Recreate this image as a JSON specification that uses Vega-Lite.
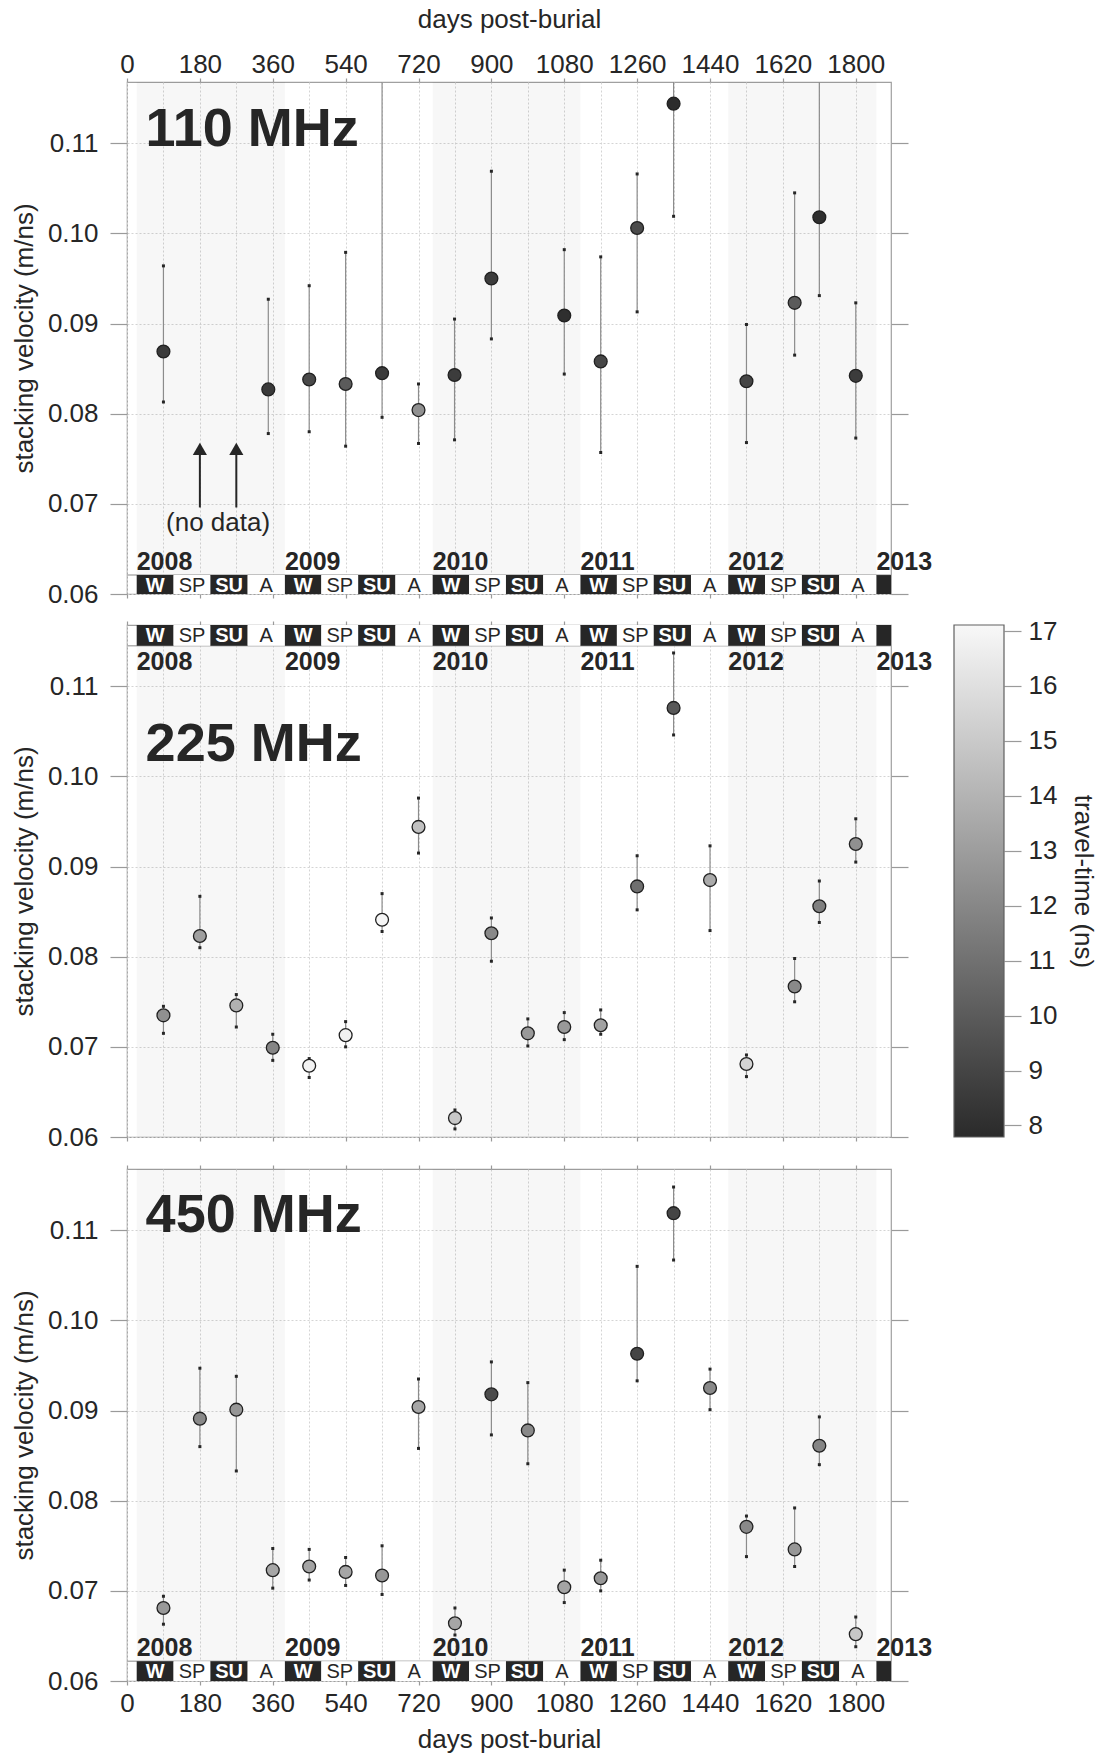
{
"$schema": "https://vega.github.io/schema/vega-lite/v6.json",
"padding": {"left": 10, "top": 5, "right": 0, "bottom": 0},
"config": {
  "font": "Liberation Sans",
  "view": {"stroke": "#a0a0a0", "strokeWidth": 1.2},
  "text": {"color": "#262626", "font": "Liberation Sans"},
  "axis": {"labelFont": "Liberation Sans", "titleFont": "Liberation Sans", "labelColor": "#262626", "titleColor": "#262626", "tickColor": "#9a9a9a", "tickWidth": 1.2, "domain": false, "gridColor": "#d4d4d4", "gridDash": [2, 2], "gridWidth": 1, "labelFontSize": 26, "titleFontSize": 26, "titleFontWeight": "normal"}
},
"datasets": {
  "pts": [
    {"f": "110", "day": 90, "v": 0.0869, "lo": 0.0813, "hi": 0.0964, "tt": 8.5},
    {"f": "110", "day": 349, "v": 0.0827, "lo": 0.0778, "hi": 0.0927, "tt": 8.5},
    {"f": "110", "day": 450, "v": 0.0838, "lo": 0.0780, "hi": 0.0942, "tt": 9.2},
    {"f": "110", "day": 540, "v": 0.0833, "lo": 0.0764, "hi": 0.0979, "tt": 10.0},
    {"f": "110", "day": 630, "v": 0.0845, "lo": 0.0796, "hi": 0.122, "tt": 8.5},
    {"f": "110", "day": 720, "v": 0.0804, "lo": 0.0767, "hi": 0.0833, "tt": 12.4},
    {"f": "110", "day": 809, "v": 0.0843, "lo": 0.0771, "hi": 0.0905, "tt": 8.6},
    {"f": "110", "day": 900, "v": 0.0950, "lo": 0.0883, "hi": 0.1069, "tt": 8.6},
    {"f": "110", "day": 1080, "v": 0.0909, "lo": 0.0844, "hi": 0.0982, "tt": 8.0},
    {"f": "110", "day": 1170, "v": 0.0858, "lo": 0.0757, "hi": 0.0974, "tt": 9.1},
    {"f": "110", "day": 1260, "v": 0.1006, "lo": 0.0913, "hi": 0.1066, "tt": 9.3},
    {"f": "110", "day": 1350, "v": 0.1144, "lo": 0.1019, "hi": 0.122, "tt": 7.9},
    {"f": "110", "day": 1530, "v": 0.0836, "lo": 0.0768, "hi": 0.0899, "tt": 9.0},
    {"f": "110", "day": 1649, "v": 0.0923, "lo": 0.0865, "hi": 0.1045, "tt": 10.0},
    {"f": "110", "day": 1710, "v": 0.1018, "lo": 0.0931, "hi": 0.122, "tt": 8.0},
    {"f": "110", "day": 1800, "v": 0.0842, "lo": 0.0773, "hi": 0.0923, "tt": 8.6},
    {"f": "225", "day": 90, "v": 0.0735, "lo": 0.0715, "hi": 0.0745, "tt": 12.4},
    {"f": "225", "day": 180, "v": 0.0823, "lo": 0.0810, "hi": 0.0867, "tt": 13.1},
    {"f": "225", "day": 270, "v": 0.0746, "lo": 0.0722, "hi": 0.0758, "tt": 13.9},
    {"f": "225", "day": 360, "v": 0.0699, "lo": 0.0685, "hi": 0.0714, "tt": 11.9},
    {"f": "225", "day": 450, "v": 0.0679, "lo": 0.0666, "hi": 0.0687, "tt": 16.9},
    {"f": "225", "day": 540, "v": 0.0713, "lo": 0.0700, "hi": 0.0728, "tt": 16.8},
    {"f": "225", "day": 630, "v": 0.0841, "lo": 0.0828, "hi": 0.0870, "tt": 17.0},
    {"f": "225", "day": 720, "v": 0.0944, "lo": 0.0915, "hi": 0.0976, "tt": 14.6},
    {"f": "225", "day": 810, "v": 0.0621, "lo": 0.0609, "hi": 0.0630, "tt": 14.9},
    {"f": "225", "day": 900, "v": 0.0826, "lo": 0.0795, "hi": 0.0843, "tt": 12.1},
    {"f": "225", "day": 990, "v": 0.0715, "lo": 0.0701, "hi": 0.0731, "tt": 12.8},
    {"f": "225", "day": 1080, "v": 0.0722, "lo": 0.0708, "hi": 0.0738, "tt": 12.8},
    {"f": "225", "day": 1170, "v": 0.0724, "lo": 0.0714, "hi": 0.0741, "tt": 13.2},
    {"f": "225", "day": 1260, "v": 0.0878, "lo": 0.0852, "hi": 0.0912, "tt": 10.9},
    {"f": "225", "day": 1350, "v": 0.1076, "lo": 0.1046, "hi": 0.1137, "tt": 9.9},
    {"f": "225", "day": 1440, "v": 0.0885, "lo": 0.0829, "hi": 0.0923, "tt": 13.6},
    {"f": "225", "day": 1530, "v": 0.0681, "lo": 0.0667, "hi": 0.0691, "tt": 15.5},
    {"f": "225", "day": 1649, "v": 0.0767, "lo": 0.0750, "hi": 0.0798, "tt": 12.1},
    {"f": "225", "day": 1710, "v": 0.0856, "lo": 0.0838, "hi": 0.0884, "tt": 11.7},
    {"f": "225", "day": 1800, "v": 0.0925, "lo": 0.0905, "hi": 0.0953, "tt": 12.4},
    {"f": "450", "day": 90, "v": 0.0681, "lo": 0.0663, "hi": 0.0694, "tt": 12.8},
    {"f": "450", "day": 180, "v": 0.0891, "lo": 0.0860, "hi": 0.0947, "tt": 12.1},
    {"f": "450", "day": 270, "v": 0.0901, "lo": 0.0833, "hi": 0.0938, "tt": 12.7},
    {"f": "450", "day": 360, "v": 0.0723, "lo": 0.0703, "hi": 0.0747, "tt": 13.4},
    {"f": "450", "day": 450, "v": 0.0727, "lo": 0.0712, "hi": 0.0746, "tt": 13.3},
    {"f": "450", "day": 540, "v": 0.0721, "lo": 0.0706, "hi": 0.0737, "tt": 13.4},
    {"f": "450", "day": 630, "v": 0.0717, "lo": 0.0696, "hi": 0.0750, "tt": 12.7},
    {"f": "450", "day": 720, "v": 0.0904, "lo": 0.0858, "hi": 0.0935, "tt": 13.4},
    {"f": "450", "day": 810, "v": 0.0664, "lo": 0.0651, "hi": 0.0681, "tt": 13.4},
    {"f": "450", "day": 900, "v": 0.0918, "lo": 0.0873, "hi": 0.0954, "tt": 9.3},
    {"f": "450", "day": 990, "v": 0.0878, "lo": 0.0841, "hi": 0.0931, "tt": 12.1},
    {"f": "450", "day": 1080, "v": 0.0704, "lo": 0.0687, "hi": 0.0723, "tt": 13.3},
    {"f": "450", "day": 1170, "v": 0.0714, "lo": 0.0700, "hi": 0.0734, "tt": 12.7},
    {"f": "450", "day": 1260, "v": 0.0963, "lo": 0.0933, "hi": 0.1060, "tt": 9.0},
    {"f": "450", "day": 1350, "v": 0.1119, "lo": 0.1067, "hi": 0.1148, "tt": 9.0},
    {"f": "450", "day": 1440, "v": 0.0925, "lo": 0.0901, "hi": 0.0946, "tt": 12.1},
    {"f": "450", "day": 1530, "v": 0.0771, "lo": 0.0738, "hi": 0.0783, "tt": 12.1},
    {"f": "450", "day": 1649, "v": 0.0746, "lo": 0.0727, "hi": 0.0792, "tt": 12.7},
    {"f": "450", "day": 1710, "v": 0.0861, "lo": 0.0840, "hi": 0.0893, "tt": 11.9},
    {"f": "450", "day": 1800, "v": 0.0652, "lo": 0.0638, "hi": 0.0671, "tt": 14.9}
  ],
  "years": [
    {"year": 2008, "start": 24, "end": 390},
    {"year": 2009, "start": 390, "end": 755},
    {"year": 2010, "start": 755, "end": 1120},
    {"year": 2011, "start": 1120, "end": 1485},
    {"year": 2012, "start": 1485, "end": 1851},
    {"year": 2013, "start": 1851, "end": 1887}
  ],
  "seasons": [
    {"year": 2008, "season": "W", "start": 24, "end": 115, "mid": 69.5},
    {"year": 2008, "season": "SP", "start": 115, "end": 206, "mid": 160.5},
    {"year": 2008, "season": "SU", "start": 206, "end": 298, "mid": 252},
    {"year": 2008, "season": "A", "start": 298, "end": 390, "mid": 344},
    {"year": 2009, "season": "W", "start": 390, "end": 480, "mid": 435},
    {"year": 2009, "season": "SP", "start": 480, "end": 571, "mid": 525.5},
    {"year": 2009, "season": "SU", "start": 571, "end": 663, "mid": 617},
    {"year": 2009, "season": "A", "start": 663, "end": 755, "mid": 709},
    {"year": 2010, "season": "W", "start": 755, "end": 845, "mid": 800},
    {"year": 2010, "season": "SP", "start": 845, "end": 936, "mid": 890.5},
    {"year": 2010, "season": "SU", "start": 936, "end": 1028, "mid": 982},
    {"year": 2010, "season": "A", "start": 1028, "end": 1120, "mid": 1074},
    {"year": 2011, "season": "W", "start": 1120, "end": 1210, "mid": 1165},
    {"year": 2011, "season": "SP", "start": 1210, "end": 1301, "mid": 1255.5},
    {"year": 2011, "season": "SU", "start": 1301, "end": 1393, "mid": 1347},
    {"year": 2011, "season": "A", "start": 1393, "end": 1485, "mid": 1439},
    {"year": 2012, "season": "W", "start": 1485, "end": 1576, "mid": 1530.5},
    {"year": 2012, "season": "SP", "start": 1576, "end": 1667, "mid": 1621.5},
    {"year": 2012, "season": "SU", "start": 1667, "end": 1759, "mid": 1713},
    {"year": 2012, "season": "A", "start": 1759, "end": 1851, "mid": 1805},
    {"year": 2013, "season": "W", "start": 1851, "end": 1887, "mid": 1869}
  ]
},
"spacing": 10,
"vconcat": [
  {
    "width": 764, "height": 512,
    "resolve": {"axis": {"x": "independent", "y": "independent"}},
    "layer": [
      {"data": {"name": "years"}, "transform": [{"filter": "datum.year % 2 == 0 && datum.year < 2013"}],
       "mark": {"type": "rect", "color": "#000000", "opacity": 0.03},
       "encoding": {
         "x": {"field": "start", "type": "quantitative", "scale": {"domain": [0, 1887], "nice": false, "zero": false},
               "axis": {"orient": "top", "values": [0,90,180,270,360,450,540,630,720,810,900,990,1080,1170,1260,1350,1440,1530,1620,1710,1800], "format": "d", "labelExpr": "datum.value % 180 === 0 ? datum.label : ''", "labelFlush": false, "labelOverlap": false, "labelPadding": 1, "tickSize": 4, "tickOpacity": {"condition": {"test": "datum.value % 180 !== 0", "value": 0}, "value": 1}, "grid": true, "title": "days post-burial", "titlePadding": 19}},
         "x2": {"field": "end"}}},
      {"data": {"name": "pts"}, "transform": [{"filter": "datum.f == '110'"}],
       "mark": {"type": "rule", "color": "#8c8c8c", "strokeWidth": 1.2, "clip": true},
       "encoding": {
         "x": {"field": "day", "type": "quantitative", "scale": {"domain": [0, 1887], "nice": false, "zero": false}, "axis": null},
         "y": {"field": "lo", "type": "quantitative", "scale": {"domain": [0.06, 0.1168], "nice": false, "zero": false},
               "axis": {"orient": "left", "values": [0.06, 0.07, 0.08, 0.09, 0.1, 0.11], "format": ".2f", "tickSize": 17, "labelPadding": 12, "grid": true, "title": "stacking velocity (m/ns)", "titlePadding": 10}},
         "y2": {"field": "hi"}}},
      {"data": {"name": "pts"}, "transform": [{"filter": "datum.f == '110'"}, {"fold": ["lo", "hi"], "as": ["end", "val"]}],
       "mark": {"type": "square", "color": "#262626", "size": 9, "opacity": 1, "clip": true},
       "encoding": {
         "x": {"field": "day", "type": "quantitative", "scale": {"domain": [0, 1887], "nice": false, "zero": false}, "axis": null},
         "y": {"field": "val", "type": "quantitative", "scale": {"domain": [0.06, 0.1168], "nice": false, "zero": false}, "axis": null}}},
      {"data": {"name": "pts"}, "transform": [{"filter": "datum.f == '110'"}],
       "mark": {"type": "circle", "size": 165, "stroke": "#202020", "strokeWidth": 1.3, "opacity": 1},
       "encoding": {
         "x": {"field": "day", "type": "quantitative", "scale": {"domain": [0, 1887], "nice": false, "zero": false},
               "axis": {"orient": "bottom", "values": [0,180,360,540,720,900,1080,1260,1440,1620,1800], "labels": false, "tickSize": 4, "grid": false, "title": null}},
         "y": {"field": "v", "type": "quantitative", "scale": {"domain": [0.06, 0.1168], "nice": false, "zero": false},
               "axis": {"orient": "right", "values": [0.06, 0.07, 0.08, 0.09, 0.1, 0.11], "labels": false, "tickSize": 17, "grid": false, "title": null}},
         "color": {"field": "tt", "type": "quantitative", "scale": {"domain": [7.79, 17.11], "range": ["#2a2a2a", "#f8f8f8"], "interpolate": "rgb"}, "legend": null}}},
      {"data": {"values": [{"n": 1}]},
       "mark": {"type": "rule", "color": "#b0b0b0", "strokeWidth": 1.5},
       "encoding": {"y": {"datum": 0.0621, "type": "quantitative", "scale": {"domain": [0.06, 0.1168], "nice": false, "zero": false}, "axis": null}}},
      {"data": {"name": "seasons"},
       "mark": {"type": "rect"},
       "encoding": {
         "x": {"field": "start", "type": "quantitative", "scale": {"domain": [0, 1887], "nice": false, "zero": false}, "axis": null},
         "x2": {"field": "end"},
         "y": {"datum": 0.06, "type": "quantitative", "scale": {"domain": [0.06, 0.1168], "nice": false, "zero": false}, "axis": null},
         "y2": {"datum": 0.0621},
         "fill": {"condition": {"test": "datum.season == 'W' || datum.season == 'SU'", "value": "#262626"}, "value": "#ffffff"}}},
      {"data": {"name": "seasons"}, "transform": [{"filter": "(datum.season == 'W' || datum.season == 'SU') && datum.year < 2013"}],
       "mark": {"type": "text", "color": "#ffffff", "fontSize": 20, "fontWeight": "bold", "baseline": "middle", "dy": 1},
       "encoding": {
         "x": {"field": "mid", "type": "quantitative", "scale": {"domain": [0, 1887], "nice": false, "zero": false}, "axis": null},
         "y": {"datum": 0.06105, "type": "quantitative", "scale": {"domain": [0.06, 0.1168], "nice": false, "zero": false}, "axis": null},
         "text": {"field": "season", "type": "nominal"}}},
      {"data": {"name": "seasons"}, "transform": [{"filter": "datum.season == 'SP' || datum.season == 'A'"}],
       "mark": {"type": "text", "color": "#262626", "fontSize": 20, "baseline": "middle", "dy": 1},
       "encoding": {
         "x": {"field": "mid", "type": "quantitative", "scale": {"domain": [0, 1887], "nice": false, "zero": false}, "axis": null},
         "y": {"datum": 0.06105, "type": "quantitative", "scale": {"domain": [0.06, 0.1168], "nice": false, "zero": false}, "axis": null},
         "text": {"field": "season", "type": "nominal"}}},
      {"data": {"name": "years"},
       "mark": {"type": "text", "fontSize": 25, "fontWeight": "bold", "align": "left", "baseline": "alphabetic"},
       "encoding": {
         "x": {"field": "start", "type": "quantitative", "scale": {"domain": [0, 1887], "nice": false, "zero": false}, "axis": null},
         "y": {"datum": 0.0627, "type": "quantitative", "scale": {"domain": [0.06, 0.1168], "nice": false, "zero": false}, "axis": null},
         "text": {"field": "year", "type": "nominal"}}},
      {"data": {"values": [{"label": "110 MHz"}]},
       "mark": {"type": "text", "fontSize": 54, "fontWeight": "bold", "align": "left", "baseline": "alphabetic"},
       "encoding": {
         "x": {"datum": 46, "type": "quantitative", "scale": {"domain": [0, 1887], "nice": false, "zero": false}, "axis": null},
         "y": {"datum": 0.1097, "type": "quantitative", "scale": {"domain": [0.06, 0.1168], "nice": false, "zero": false}, "axis": null},
         "text": {"field": "label", "type": "nominal"}}},
      {"data": {"values": [{"label": "(no data)"}]},
       "mark": {"type": "text", "fontSize": 26, "align": "center", "baseline": "alphabetic"},
       "encoding": {
         "x": {"datum": 225, "type": "quantitative", "scale": {"domain": [0, 1887], "nice": false, "zero": false}, "axis": null},
         "y": {"datum": 0.0670, "type": "quantitative", "scale": {"domain": [0.06, 0.1168], "nice": false, "zero": false}, "axis": null},
         "text": {"field": "label", "type": "nominal"}}},
      {"data": {"values": [{"day": 180}, {"day": 270}]},
       "mark": {"type": "rule", "color": "#262626", "strokeWidth": 2},
       "encoding": {
         "x": {"field": "day", "type": "quantitative", "scale": {"domain": [0, 1887], "nice": false, "zero": false}, "axis": null},
         "y": {"datum": 0.0696, "type": "quantitative", "scale": {"domain": [0.06, 0.1168], "nice": false, "zero": false}, "axis": null},
         "y2": {"datum": 0.0755}}},
      {"data": {"values": [{"day": 180}, {"day": 270}]},
       "mark": {"type": "point", "shape": "triangle-up", "filled": true, "color": "#262626", "size": 200, "opacity": 1},
       "encoding": {
         "x": {"field": "day", "type": "quantitative", "scale": {"domain": [0, 1887], "nice": false, "zero": false}, "axis": null},
         "y": {"datum": 0.0761, "type": "quantitative", "scale": {"domain": [0.06, 0.1168], "nice": false, "zero": false}, "axis": null}}}
    ]
  },
  {
    "spacing": 12,
    "vconcat": [
      {
        "spacing": 20,
        "resolve": {"scale": {"y": "independent"}},
        "hconcat": [
          {
            "width": 764, "height": 512,
            "resolve": {"axis": {"x": "independent", "y": "independent"}},
            "layer": [
              {"data": {"name": "years"}, "transform": [{"filter": "datum.year % 2 == 0 && datum.year < 2013"}],
               "mark": {"type": "rect", "color": "#000000", "opacity": 0.03},
               "encoding": {
                 "x": {"field": "start", "type": "quantitative", "scale": {"domain": [0, 1887], "nice": false, "zero": false},
                       "axis": {"orient": "top", "values": [0,90,180,270,360,450,540,630,720,810,900,990,1080,1170,1260,1350,1440,1530,1620,1710,1800], "labels": false, "tickSize": 4, "tickOpacity": {"condition": {"test": "datum.value % 180 !== 0", "value": 0}, "value": 1}, "grid": true, "title": null}},
                 "x2": {"field": "end"}}},
              {"data": {"name": "pts"}, "transform": [{"filter": "datum.f == '225'"}],
               "mark": {"type": "rule", "color": "#8c8c8c", "strokeWidth": 1.2, "clip": true},
               "encoding": {
                 "x": {"field": "day", "type": "quantitative", "scale": {"domain": [0, 1887], "nice": false, "zero": false}, "axis": null},
                 "y": {"field": "lo", "type": "quantitative", "scale": {"domain": [0.06, 0.1168], "nice": false, "zero": false},
                       "axis": {"orient": "left", "values": [0.06, 0.07, 0.08, 0.09, 0.1, 0.11], "format": ".2f", "tickSize": 17, "labelPadding": 12, "grid": true, "title": "stacking velocity (m/ns)", "titlePadding": 10}},
                 "y2": {"field": "hi"}}},
              {"data": {"name": "pts"}, "transform": [{"filter": "datum.f == '225'"}, {"fold": ["lo", "hi"], "as": ["end", "val"]}],
               "mark": {"type": "square", "color": "#262626", "size": 9, "opacity": 1, "clip": true},
               "encoding": {
                 "x": {"field": "day", "type": "quantitative", "scale": {"domain": [0, 1887], "nice": false, "zero": false}, "axis": null},
                 "y": {"field": "val", "type": "quantitative", "scale": {"domain": [0.06, 0.1168], "nice": false, "zero": false}, "axis": null}}},
              {"data": {"name": "pts"}, "transform": [{"filter": "datum.f == '225'"}],
               "mark": {"type": "circle", "size": 165, "stroke": "#202020", "strokeWidth": 1.3, "opacity": 1},
               "encoding": {
                 "x": {"field": "day", "type": "quantitative", "scale": {"domain": [0, 1887], "nice": false, "zero": false},
                       "axis": {"orient": "bottom", "values": [0,180,360,540,720,900,1080,1260,1440,1620,1800], "labels": false, "tickSize": 4, "grid": false, "title": null}},
                 "y": {"field": "v", "type": "quantitative", "scale": {"domain": [0.06, 0.1168], "nice": false, "zero": false},
                       "axis": {"orient": "right", "values": [0.06, 0.07, 0.08, 0.09, 0.1, 0.11], "labels": false, "tickSize": 17, "grid": false, "title": null}},
                 "color": {"field": "tt", "type": "quantitative", "scale": {"domain": [7.79, 17.11], "range": ["#2a2a2a", "#f8f8f8"], "interpolate": "rgb"}, "legend": null}}},
              {"data": {"values": [{"n": 1}]},
               "mark": {"type": "rule", "color": "#b0b0b0", "strokeWidth": 1.5},
               "encoding": {"y": {"datum": 0.1145, "type": "quantitative", "scale": {"domain": [0.06, 0.1168], "nice": false, "zero": false}, "axis": null}}},
              {"data": {"name": "seasons"},
               "mark": {"type": "rect"},
               "encoding": {
                 "x": {"field": "start", "type": "quantitative", "scale": {"domain": [0, 1887], "nice": false, "zero": false}, "axis": null},
                 "x2": {"field": "end"},
                 "y": {"datum": 0.1145, "type": "quantitative", "scale": {"domain": [0.06, 0.1168], "nice": false, "zero": false}, "axis": null},
                 "y2": {"datum": 0.1168},
                 "fill": {"condition": {"test": "datum.season == 'W' || datum.season == 'SU'", "value": "#262626"}, "value": "#ffffff"}}},
              {"data": {"name": "seasons"}, "transform": [{"filter": "(datum.season == 'W' || datum.season == 'SU') && datum.year < 2013"}],
               "mark": {"type": "text", "color": "#ffffff", "fontSize": 20, "fontWeight": "bold", "baseline": "middle", "dy": 1},
               "encoding": {
                 "x": {"field": "mid", "type": "quantitative", "scale": {"domain": [0, 1887], "nice": false, "zero": false}, "axis": null},
                 "y": {"datum": 0.11565, "type": "quantitative", "scale": {"domain": [0.06, 0.1168], "nice": false, "zero": false}, "axis": null},
                 "text": {"field": "season", "type": "nominal"}}},
              {"data": {"name": "seasons"}, "transform": [{"filter": "datum.season == 'SP' || datum.season == 'A'"}],
               "mark": {"type": "text", "color": "#262626", "fontSize": 20, "baseline": "middle", "dy": 1},
               "encoding": {
                 "x": {"field": "mid", "type": "quantitative", "scale": {"domain": [0, 1887], "nice": false, "zero": false}, "axis": null},
                 "y": {"datum": 0.11565, "type": "quantitative", "scale": {"domain": [0.06, 0.1168], "nice": false, "zero": false}, "axis": null},
                 "text": {"field": "season", "type": "nominal"}}},
              {"data": {"name": "years"},
               "mark": {"type": "text", "fontSize": 25, "fontWeight": "bold", "align": "left", "baseline": "alphabetic"},
               "encoding": {
                 "x": {"field": "start", "type": "quantitative", "scale": {"domain": [0, 1887], "nice": false, "zero": false}, "axis": null},
                 "y": {"datum": 0.1118, "type": "quantitative", "scale": {"domain": [0.06, 0.1168], "nice": false, "zero": false}, "axis": null},
                 "text": {"field": "year", "type": "nominal"}}},
              {"data": {"values": [{"label": "225 MHz"}]},
               "mark": {"type": "text", "fontSize": 54, "fontWeight": "bold", "align": "left", "baseline": "alphabetic"},
               "encoding": {
                 "x": {"datum": 46, "type": "quantitative", "scale": {"domain": [0, 1887], "nice": false, "zero": false}, "axis": null},
                 "y": {"datum": 0.1017, "type": "quantitative", "scale": {"domain": [0.06, 0.1168], "nice": false, "zero": false}, "axis": null},
                 "text": {"field": "label", "type": "nominal"}}}
            ]
          },
          {
            "width": 50, "height": 512,
            "view": {"stroke": null},
            "data": {"values": [{"bar": "travel-time"}]},
            "mark": {"type": "rect", "stroke": "#606060", "strokeWidth": 1.2,
                     "color": {"gradient": "linear", "x1": 0, "y1": 0, "x2": 0, "y2": 1, "stops": [{"offset": 0, "color": "#f8f8f8"}, {"offset": 1, "color": "#2a2a2a"}]}},
            "encoding": {
              "y": {"datum": 7.79, "type": "quantitative", "scale": {"domain": [7.79, 17.11], "nice": false, "zero": false},
                    "axis": {"orient": "right", "values": [8, 9, 10, 11, 12, 13, 14, 15, 16, 17], "format": "d", "tickSize": 17, "labelPadding": 7, "grid": false, "title": "travel-time (ns)", "titleAngle": 90, "titlePadding": 13}},
              "y2": {"datum": 17.11}}
          }
        ]
      },
      {
        "width": 764, "height": 512,
        "resolve": {"axis": {"x": "independent", "y": "independent"}},
        "layer": [
          {"data": {"name": "years"}, "transform": [{"filter": "datum.year % 2 == 0 && datum.year < 2013"}],
           "mark": {"type": "rect", "color": "#000000", "opacity": 0.03},
           "encoding": {
             "x": {"field": "start", "type": "quantitative", "scale": {"domain": [0, 1887], "nice": false, "zero": false},
                   "axis": {"orient": "top", "values": [0,90,180,270,360,450,540,630,720,810,900,990,1080,1170,1260,1350,1440,1530,1620,1710,1800], "labels": false, "tickSize": 4, "tickOpacity": {"condition": {"test": "datum.value % 180 !== 0", "value": 0}, "value": 1}, "grid": true, "title": null}},
             "x2": {"field": "end"}}},
          {"data": {"name": "pts"}, "transform": [{"filter": "datum.f == '450'"}],
           "mark": {"type": "rule", "color": "#8c8c8c", "strokeWidth": 1.2, "clip": true},
           "encoding": {
             "x": {"field": "day", "type": "quantitative", "scale": {"domain": [0, 1887], "nice": false, "zero": false}, "axis": null},
             "y": {"field": "lo", "type": "quantitative", "scale": {"domain": [0.06, 0.1168], "nice": false, "zero": false},
                   "axis": {"orient": "left", "values": [0.06, 0.07, 0.08, 0.09, 0.1, 0.11], "format": ".2f", "tickSize": 17, "labelPadding": 12, "grid": true, "title": "stacking velocity (m/ns)", "titlePadding": 10}},
             "y2": {"field": "hi"}}},
          {"data": {"name": "pts"}, "transform": [{"filter": "datum.f == '450'"}, {"fold": ["lo", "hi"], "as": ["end", "val"]}],
           "mark": {"type": "square", "color": "#262626", "size": 9, "opacity": 1, "clip": true},
           "encoding": {
             "x": {"field": "day", "type": "quantitative", "scale": {"domain": [0, 1887], "nice": false, "zero": false}, "axis": null},
             "y": {"field": "val", "type": "quantitative", "scale": {"domain": [0.06, 0.1168], "nice": false, "zero": false}, "axis": null}}},
          {"data": {"name": "pts"}, "transform": [{"filter": "datum.f == '450'"}],
           "mark": {"type": "circle", "size": 165, "stroke": "#202020", "strokeWidth": 1.3, "opacity": 1},
           "encoding": {
             "x": {"field": "day", "type": "quantitative", "scale": {"domain": [0, 1887], "nice": false, "zero": false},
                   "axis": {"orient": "bottom", "values": [0,180,360,540,720,900,1080,1260,1440,1620,1800], "format": "d", "labelFlush": false, "labelOverlap": false, "labelPadding": 5, "tickSize": 4, "grid": false, "title": "days post-burial", "titlePadding": 10}},
             "y": {"field": "v", "type": "quantitative", "scale": {"domain": [0.06, 0.1168], "nice": false, "zero": false},
                   "axis": {"orient": "right", "values": [0.06, 0.07, 0.08, 0.09, 0.1, 0.11], "labels": false, "tickSize": 17, "grid": false, "title": null}},
             "color": {"field": "tt", "type": "quantitative", "scale": {"domain": [7.79, 17.11], "range": ["#2a2a2a", "#f8f8f8"], "interpolate": "rgb"}, "legend": null}}},
          {"data": {"values": [{"n": 1}]},
           "mark": {"type": "rule", "color": "#b0b0b0", "strokeWidth": 1.5},
           "encoding": {"y": {"datum": 0.0622, "type": "quantitative", "scale": {"domain": [0.06, 0.1168], "nice": false, "zero": false}, "axis": null}}},
          {"data": {"name": "seasons"},
           "mark": {"type": "rect"},
           "encoding": {
             "x": {"field": "start", "type": "quantitative", "scale": {"domain": [0, 1887], "nice": false, "zero": false}, "axis": null},
             "x2": {"field": "end"},
             "y": {"datum": 0.06, "type": "quantitative", "scale": {"domain": [0.06, 0.1168], "nice": false, "zero": false}, "axis": null},
             "y2": {"datum": 0.0622},
             "fill": {"condition": {"test": "datum.season == 'W' || datum.season == 'SU'", "value": "#262626"}, "value": "#ffffff"}}},
          {"data": {"name": "seasons"}, "transform": [{"filter": "(datum.season == 'W' || datum.season == 'SU') && datum.year < 2013"}],
           "mark": {"type": "text", "color": "#ffffff", "fontSize": 20, "fontWeight": "bold", "baseline": "middle", "dy": 1},
           "encoding": {
             "x": {"field": "mid", "type": "quantitative", "scale": {"domain": [0, 1887], "nice": false, "zero": false}, "axis": null},
             "y": {"datum": 0.0611, "type": "quantitative", "scale": {"domain": [0.06, 0.1168], "nice": false, "zero": false}, "axis": null},
             "text": {"field": "season", "type": "nominal"}}},
          {"data": {"name": "seasons"}, "transform": [{"filter": "datum.season == 'SP' || datum.season == 'A'"}],
           "mark": {"type": "text", "color": "#262626", "fontSize": 20, "baseline": "middle", "dy": 1},
           "encoding": {
             "x": {"field": "mid", "type": "quantitative", "scale": {"domain": [0, 1887], "nice": false, "zero": false}, "axis": null},
             "y": {"datum": 0.0611, "type": "quantitative", "scale": {"domain": [0.06, 0.1168], "nice": false, "zero": false}, "axis": null},
             "text": {"field": "season", "type": "nominal"}}},
          {"data": {"name": "years"},
           "mark": {"type": "text", "fontSize": 25, "fontWeight": "bold", "align": "left", "baseline": "alphabetic"},
           "encoding": {
             "x": {"field": "start", "type": "quantitative", "scale": {"domain": [0, 1887], "nice": false, "zero": false}, "axis": null},
             "y": {"datum": 0.0628, "type": "quantitative", "scale": {"domain": [0.06, 0.1168], "nice": false, "zero": false}, "axis": null},
             "text": {"field": "year", "type": "nominal"}}},
          {"data": {"values": [{"label": "450 MHz"}]},
           "mark": {"type": "text", "fontSize": 54, "fontWeight": "bold", "align": "left", "baseline": "alphabetic"},
           "encoding": {
             "x": {"datum": 46, "type": "quantitative", "scale": {"domain": [0, 1887], "nice": false, "zero": false}, "axis": null},
             "y": {"datum": 0.1098, "type": "quantitative", "scale": {"domain": [0.06, 0.1168], "nice": false, "zero": false}, "axis": null},
             "text": {"field": "label", "type": "nominal"}}}
        ]
      }
    ]
  }
]
}
